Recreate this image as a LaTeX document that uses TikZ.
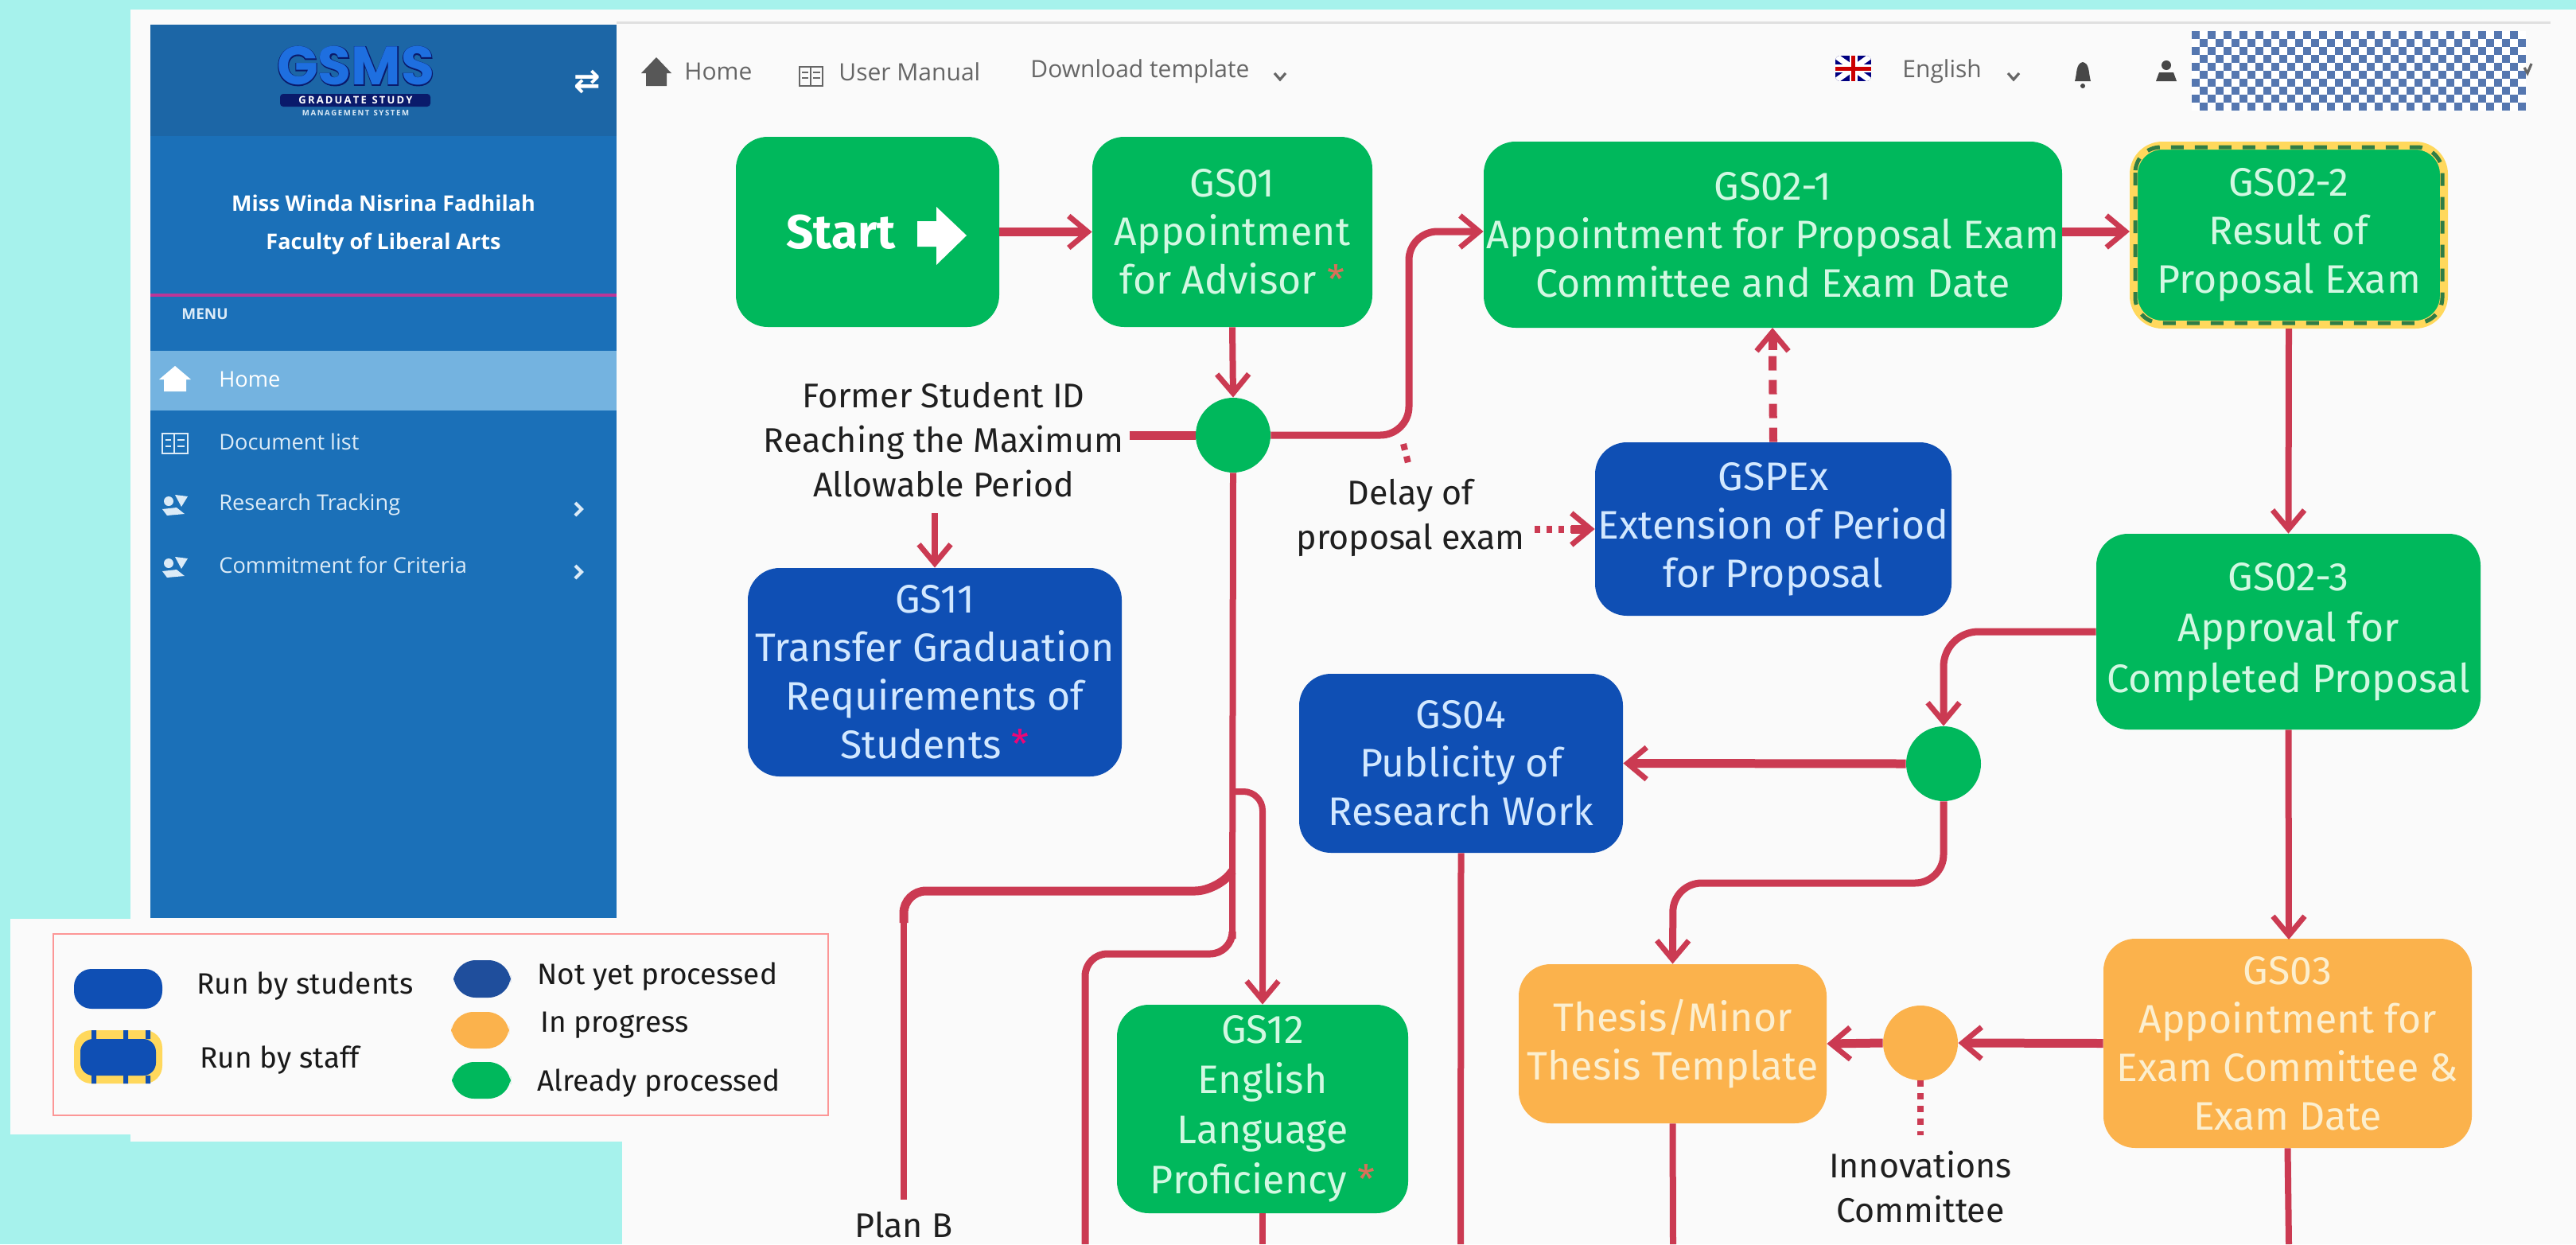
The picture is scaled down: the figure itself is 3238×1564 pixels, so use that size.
\documentclass[tikz,border=0pt]{standalone}
\usepackage{fontspec}
\usetikzlibrary{arrows.meta}
\setmainfont{Fira Sans}
\newfontfamily\sidefont{Open Sans}
\newfontfamily\logofont{Poppins}[Scale=1]
\newfontfamily\logofat{Poppins}[FakeBold=3]
\newfontfamily\symfont{DejaVu Sans}
\definecolor{pagebg}{HTML}{A6F2EC}
\definecolor{panel}{HTML}{FAFAFA}
\definecolor{side}{HTML}{1B70B8}
\definecolor{sidehead}{HTML}{1C66A6}
\definecolor{homerow}{HTML}{74B3E0}
\definecolor{gbox}{HTML}{00B85C}
\definecolor{bbox}{HTML}{0F4FB4}
\definecolor{obox}{HTML}{FBB24C}
\definecolor{nbox}{HTML}{1F4E9C}
\definecolor{gtext}{HTML}{D2F8E2}
\definecolor{btext}{HTML}{D2E8FF}
\definecolor{otext}{HTML}{FCEFCF}
\definecolor{conn}{HTML}{CB3A52}
\definecolor{yellowb}{HTML}{FFD85C}
\definecolor{dashg}{HTML}{2F7D46}
\definecolor{navtext}{HTML}{666666}
\definecolor{sidetext}{HTML}{DCEBF7}
\definecolor{check}{HTML}{5577B0}
\definecolor{astg}{HTML}{D9705A}
\definecolor{logonavy}{HTML}{0A1A6B}
\definecolor{logoblue}{HTML}{1E6FE0}
\tikzset{
  box/.style={rounded corners=20pt,align=center,inner sep=0pt,
    font=\fontsize{25}{30.5}\selectfont},
  gbx/.style={box,fill=gbox,text=gtext},
  bbx/.style={box,fill=bbox,text=btext},
  obx/.style={box,fill=obox,text=otext},
  lab/.style={align=center,inner sep=0pt,text=black!88,font=\fontsize{21.5}{28}\selectfont},
  thick line/.style={draw=conn,line width=5.5pt},
  thin line/.style={draw=conn,line width=4pt},
  mid line/.style={draw=conn,line width=4.5pt},
  tip/.style={-{Straight Barb[length=12pt,width=20pt,line width=3.4pt]}},
  nav/.style={inner sep=0pt,anchor=west,text=navtext,font=\sidefont\fontsize{15}{17}\selectfont},
  menu/.style={inner sep=0pt,anchor=west,text=sidetext,font=\sidefont\fontsize{13.6}{16}\selectfont},
  leg/.style={inner sep=0pt,anchor=west,text=black!90,font=\fontsize{18.5}{22}\selectfont},
  chev/.style={draw,line width=1.6pt},
}
\newcommand{\aster}[1]{\textcolor{#1}{*}}
\begin{document}
\begin{tikzpicture}[x=0.5pt,y=-0.5pt]
\useasboundingbox (0,0) rectangle (3238,1564);
\fill[pagebg] (0,0) rectangle (3238,1564);
% panels
\fill[panel] (164,12) rectangle (3238,1435);
\fill[panel] (782,12) rectangle (3238,1564);
\fill[panel] (13,1155) rectangle (782,1426);
% sidebar
\fill[side] (189,31) rectangle (775,1154);
\fill[sidehead] (189,31) rectangle (775,171);
\fill[homerow] (189,441) rectangle (775,516);
\draw[draw=magenta!70!side,line width=2pt] (189,371) -- (775,371);
\draw[draw=black!12,line width=1.5pt] (775,28) -- (3206,28);
% logo
\node[inner sep=0pt,text=logoblue,font=\logofont\bfseries\fontsize{34}{34}\selectfont] (logoa) at (447,83) {\rlap{\textcolor{logonavy}{\logofat\bfseries GSMS}}GSMS};
\fill[logonavy,rounded corners=2pt] (352,118) rectangle (541,134);
\node[inner sep=0pt,text=white,font=\sidefont\bfseries\fontsize{6.5}{7}\selectfont] (logoc) at (447,126) {G\,R\,A\,D\,U\,A\,T\,E\ \ S\,T\,U\,D\,Y};
\node[inner sep=0pt,text=sidetext,font=\sidefont\bfseries\fontsize{4.8}{6}\selectfont] (logod) at (447,142) {M\,A\,N\,A\,G\,E\,M\,E\,N\,T\ \ S\,Y\,S\,T\,E\,M};
\node[inner sep=0pt,text=white,font=\symfont\bfseries\fontsize{20}{20}\selectfont] (swap) at (738,103) {⇄};
\node[inner sep=0pt,text=white,font=\sidefont\bfseries\fontsize{13.5}{18}\selectfont] (uname) at (482,255) {Miss Winda Nisrina Fadhilah};
\node[inner sep=0pt,text=white,font=\sidefont\bfseries\fontsize{13.5}{18}\selectfont] (ufac) at (482,306) {Faculty of Liberal Arts};
\node[inner sep=0pt,anchor=west,text=sidetext,font=\sidefont\bfseries\fontsize{9.5}{12}\selectfont] (menu0) at (228,395) {MENU};
\node[menu,text=white] (menu1) at (275,477) {Home};
\node[menu] (menu2) at (275,555) {Document list};
\node[menu] (menu3) at (275,634) {Research Tracking};
\node[menu] (menu4) at (275,710) {Commitment for Criteria};
% sidebar icons
\fill[white] (220,460) -- (240,477) -- (234,477) -- (234,492) -- (206,492) -- (206,477) -- (200,477) -- cycle;
\draw[sidetext,line width=1.4pt] (204,545) rectangle (219,570) (219,545) rectangle (236,570) (208,553) -- (215,553) (223,553) -- (232,553) (208,561) -- (215,561) (223,561) -- (232,561);
\foreach \yy in {634,712}{
  \fill[sidetext] (204,\yy+6) -- (222,\yy+4) -- (232,\yy+12) -- (210,\yy+14) -- cycle;
  \fill[sidetext] (212,\yy-4) circle (6);
  \fill[sidetext] (220,\yy-12) -- (236,\yy-10) -- (228,\yy+3) -- cycle;
}
\draw[sidetext,line width=2pt] (723,632) -- (731,640) -- (723,648);
\draw[sidetext,line width=2pt] (723,711) -- (731,719) -- (723,727);
% top navigation
\fill[navtext!85!black] (825,72) -- (844,92) -- (838,92) -- (838,108) -- (812,108) -- (812,92) -- (806,92) -- cycle;
\node[nav] (n1) at (860,90) {Home};
\draw[navtext,line width=1.1pt] (1005,84) rectangle (1019,108) (1019,84) rectangle (1034,108) (1008,91) -- (1016,91) (1022,91) -- (1031,91) (1008,98) -- (1016,98) (1022,98) -- (1031,98);
\node[nav] (n2) at (1054,90) {User Manual};
\node[nav] (n3) at (1295,90) {Download template};
\draw[navtext,chev] (1602,92) -- (1609,100) -- (1616,92);
\begin{scope}
\clip[rounded corners=3pt] (2307,70) rectangle (2352,102);
\fill[blue!50!black] (2307,70) rectangle (2352,102);
\draw[white,line width=3.5pt] (2307,70) -- (2352,102) (2352,70) -- (2307,102);
\draw[white,line width=5pt] (2329.5,70) -- (2329.5,102) (2307,86) -- (2352,86);
\draw[red!80!black,line width=2.5pt] (2329.5,70) -- (2329.5,102) (2307,86) -- (2352,86);
\end{scope}
\node[nav] (n4) at (2391,90) {English};
\draw[navtext,chev] (2524,92) -- (2531,100) -- (2538,92);
\fill[navtext!70!black] (2618,78) .. controls (2609,80) and (2611,92) .. (2608,102) -- (2628,102) .. controls (2625,92) and (2627,80) .. (2618,78) -- cycle;
\fill[navtext!70!black] (2618,108) circle (3);
\fill[navtext!70!black] (2723,82) circle (6);
\fill[navtext!70!black] (2710,102) -- (2736,102) -- (2732,91) -- (2714,91) -- cycle;
\fill[white] (2755,39) rectangle (3175,139);
\foreach \cx in {0,...,41}{\foreach \cy in {0,...,9}{
  \pgfmathtruncatemacro{\parity}{mod(\cx+\cy,2)}
  \ifnum\parity=0 \fill[check] (2755+\cx*10,39+\cy*10) rectangle (2765+\cx*10,49+\cy*10); \fi
}}
\draw[navtext,chev] (3173,85) -- (3177,92) -- (3182,80);
% flow nodes
\node[gbx,minimum width=165.5pt,minimum height=119.5pt] (start) at (1090.5,291.5) {};
\node[inner sep=0pt,text=white,font=\bfseries\fontsize{30}{30}\selectfont] (startt) at (1057,292) {Start};
\fill[white] (1153,278) -- (1177,278) -- (1177,260) -- (1215,296) -- (1177,333) -- (1177,310) -- (1153,310) -- cycle;
\node[gbx,minimum width=176pt,minimum height=119.5pt] (gs01) at (1549,291.5) {GS01\\Appointment\\for Advisor \aster{astg}};
\node[gbx,minimum width=363.5pt,minimum height=117pt] (gs021) at (2228.5,295) {GS02-1\\Appointment for Proposal Exam\\Committee and Exam Date};
\draw[fill=gbox,draw=yellowb,line width=5pt,rounded corners=18pt] (2682,183) rectangle (3072,408);
\draw[draw=dashg,line width=2.5pt,dash pattern=on 8pt off 7pt,rounded corners=16pt] (2684,185) rectangle (3070,406);
\node[box,text=gtext] (gs022) at (2877,295.5) {GS02-2\\Result of\\Proposal Exam};
\node[bbx,minimum width=224pt,minimum height=109pt] (gspex) at (2229,665) {GSPEx\\Extension of Period\\for Proposal};
\node[bbx,minimum width=235pt,minimum height=131pt] (gs11) at (1175,845) {GS11\\Transfer Graduation\\Requirements of\\Students \aster{magenta!80!red}};
\node[bbx,minimum width=203.5pt,minimum height=112.5pt] (gs04) at (1836.5,959.5) {GS04\\Publicity of\\Research Work};
\node[gbx,minimum width=241.5pt,minimum height=123pt] (gs023) at (2876.5,794) {GS02-3\\[1.5pt]Approval for\\[1.5pt]Completed Proposal};
\node[gbx,minimum width=183pt,minimum height=131pt] (gs12) at (1587,1394) {GS12\\[1pt]English\\[1pt]Language\\[1pt]Proficiency \aster{astg}};
\node[obx,minimum width=193.5pt,minimum height=100pt] (thesis) at (2102.5,1312) {Thesis/Minor\\Thesis Template};
\node[obx,minimum width=231.5pt,minimum height=131.5pt] (gs03) at (2875.5,1311.5) {GS03\\Appointment for\\Exam Committee \&\\Exam Date};
\node[circle,fill=gbox,inner sep=0pt,minimum size=47pt] (hubA) at (1550,547) {};
\node[circle,fill=gbox,inner sep=0pt,minimum size=47pt] (hubB) at (2443,960) {};
\node[circle,fill=obox,inner sep=0pt,minimum size=47pt] (hubC) at (2414,1311) {};
% labels
\node[lab] (former) at (1186,553) {Former Student ID\\Reaching the Maximum\\Allowable Period};
\node[lab] (delay) at (1773,651) {Delay of\\proposal exam};
\node[lab] (innov) at (2414,1492) {Innovations\\Committee};
\node[lab] (planb) at (1136,1540) {Plan B};
% free ends
\coordinate (fEndA) at (1420,547);
\coordinate (fEndB) at (1175,645);
\coordinate (fBottomA) at (1549,1180);
\coordinate (fPlanB) at (1136,1508);
\coordinate (fBr2) at (1364,1564);
\coordinate (fDotA) at (1770,582);
\coordinate (fDotB) at (1929,665);
\coordinate (fDotC) at (2414,1427);
% connectors
\draw[thick line,tip] (start.east) -- (gs01.west);
\draw[thin line,tip] (gs01.south) -- (hubA.north);
\draw[mid line,tip,rounded corners=18pt] (hubA.east) -- (1771,547) -- (1771,291) -- (gs021.west |- 0,291);
\draw[thick line] (fEndA) -- (hubA.west);
\draw[thin line,tip] (fEndB) -- (gs11.north);
\draw[thick line,tip] (gs021.east |- 0,291) -- (2677,291);
\draw[thin line,tip] (2877,413) -- (gs023.north);
\draw[mid line,tip,rounded corners=22pt] (gs023.west) -- (2443,794) -- (hubB.north);
\draw[thick line,tip] (hubB.west) -- (gs04.east);
\draw[mid line,tip,rounded corners=18pt] (hubB.south) -- (2443,1110) -- (2103,1110) -- (thesis.north);
\draw[thin line,tip] (gs023.south) -- (2877,1181);
\draw[thick line,tip] (gs03.west) -- (hubC.east);
\draw[thick line,tip] (hubC.west) -- (thesis.east);
\draw[thin line] (hubA.south) -- (fBottomA);
\draw[mid line,rounded corners=14pt] (fBottomA) -- (1549,1199) -- (1364,1199) -- (fBr2);
\draw[thick line,rounded corners=14pt] (1549,1095) -- (1530,1120) -- (1136,1120) -- (1136,1160);
\draw[thin line] (1136,1150) -- (fPlanB);
\draw[thin line,tip,rounded corners=12pt] (1549,995) -- (1587,995) -- (gs12.north);
\draw[thin line] (gs04.south) -- (1836,1564);
\draw[thin line] (gs12.south) -- (1587,1564);
\draw[thin line] (thesis.south) -- (2103,1564);
\draw[thin line] (gs03.south) -- (2877,1564);
\draw[draw=conn,line width=5pt,dash pattern=on 9pt off 6pt] (gspex.north) -- (2228,440);
\draw[thick line,tip] (2228,440) -- (2228,412);
\draw[draw=conn,line width=4pt,dash pattern=on 4pt off 4pt] (1764,558) -- (fDotA);
\draw[draw=conn,line width=4.5pt,dash pattern=on 3.5pt off 4pt] (fDotB) -- (1975,665);
\draw[thick line,tip] (1975,665) -- (gspex.west);
\draw[draw=conn,line width=4pt,dash pattern=on 4pt off 4pt] (hubC.south) -- (fDotC);
% legend
\draw[draw=red!40!panel,line width=1pt] (67,1174) rectangle (1041,1402);
\fill[bbox,rounded corners=11pt] (93,1218) rectangle (204,1268);
\fill[yellowb,rounded corners=11pt] (93,1295) rectangle (204,1362);
\fill[bbox,rounded corners=8pt] (101,1306) rectangle (196,1352);
\foreach \xx in {118,158,186}{\fill[bbox] (\xx-3,1295) rectangle (\xx+3,1306) (\xx-3,1352) rectangle (\xx+3,1362);}
\node[leg] (l1) at (247,1240) {Run by students};
\node[leg] (l2) at (251,1333) {Run by staff};
\fill[nbox,rounded corners=14pt] (570,1207) rectangle (642,1254);
\fill[obox,rounded corners=14pt] (567,1272) rectangle (640,1318);
\fill[gbox,rounded corners=14pt] (568,1335) rectangle (642,1381);
\node[leg] (l3) at (675,1228) {Not yet processed};
\node[leg] (l4) at (679,1289) {In progress};
\node[leg] (l5) at (675,1362) {Already processed};
\end{tikzpicture}
\end{document}
